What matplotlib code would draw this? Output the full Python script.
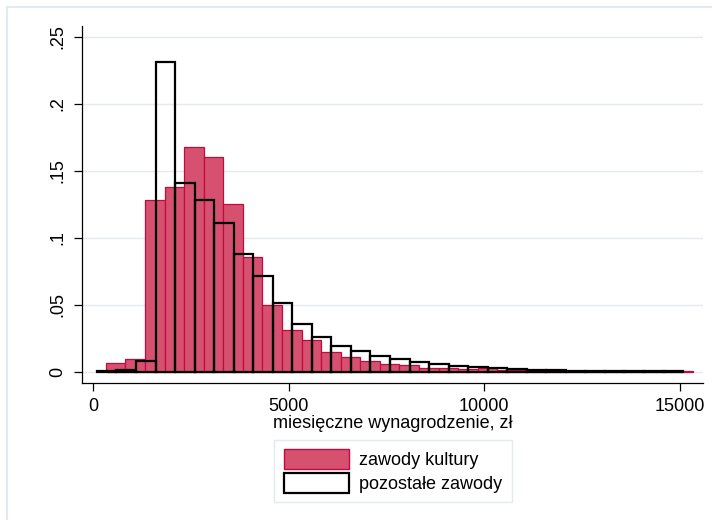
import matplotlib.pyplot as plt
from matplotlib.patches import Patch
import numpy as np

plt.rcParams['font.family'] = ['Liberation Sans', 'DejaVu Sans']

###================ Data =================###

# zawody kultury: 30 bins starting at 330 zl, width ~500 zl (fraction per bin)
culture_start = 330
culture_width = 500.5
culture_frac = [0.0065, 0.0097, 0.128, 0.138, 0.168, 0.160, 0.125, 0.0856,
                0.0498, 0.0308, 0.0234, 0.0144, 0.0113, 0.0083, 0.0058,
                0.0049, 0.0030, 0.0030, 0.0022, 0.0024, 0.0013, 0.0012,
                0.0010, 0.0008, 0.0007, 0.0006, 0.0005, 0.0004, 0.0003, 0.0003]

# pozostale zawody: 30 bins starting at 100 zl
other_start = 100
other_width = 499.7
other_frac = [0.0003, 0.0010, 0.0077, 0.231, 0.141, 0.128, 0.111, 0.0875,
              0.0714, 0.051, 0.0358, 0.026, 0.019, 0.0154, 0.0116, 0.0093,
              0.0071, 0.0056, 0.0043, 0.0036, 0.0025, 0.0020, 0.0015, 0.0010,
              0.0008, 0.0006, 0.0005, 0.0004, 0.0003, 0.0002]

x_ticks = [0, 5000, 10000, 15000]
y_ticks = [0, 0.05, 0.1, 0.15, 0.2, 0.25]
y_tick_labels = ['0', '.05', '.1', '.15', '.2', '.25']
x_label = 'miesięczne wynagrodzenie, zł'
legend_labels = ['zawody kultury', 'pozostałe zawody']

RED_FILL = '#d5516f'
RED_EDGE = '#c40a3c'
FRAME = '#e3eaef'

###================ Plot =================###

fig = plt.figure(figsize=(7.12, 5.2), dpi=100)
fig.patch.set_facecolor('white')

# outer light frame of the graph region (cropped at right/bottom)
fig.add_artist(plt.Line2D([7 / 712, 7 / 712], [0, 1 - 7 / 520],
                          color=FRAME, lw=1.5, transform=fig.transFigure))
fig.add_artist(plt.Line2D([7 / 712, 1], [1 - 7 / 520, 1 - 7 / 520],
                          color=FRAME, lw=1.5, transform=fig.transFigure))

ax = fig.add_axes([81.7 / 712, 137.3 / 520, (703 - 81.7) / 712, (382.7 - 26) / 520])

culture_edges = culture_start + culture_width * np.arange(len(culture_frac))
other_edges = other_start + other_width * np.arange(len(other_frac))

ax.bar(culture_edges, culture_frac, width=culture_width, align='edge',
       color=RED_FILL, edgecolor=RED_EDGE, linewidth=0.9, zorder=2)
ax.bar(other_edges, other_frac, width=other_width, align='edge',
       facecolor='none', edgecolor='black', linewidth=1.6, zorder=3)

ax.set_xlim(-289, 15601)
ax.set_ylim(-0.0082, 0.258)

ax.set_xticks(x_ticks)
ax.set_xticklabels([str(t) for t in x_ticks])
ax.set_yticks(y_ticks)
ax.set_yticklabels(y_tick_labels, rotation=90, va='center')
ax.tick_params(axis='both', labelsize=13, length=6, width=0.9,
               direction='out', pad=5, color='black')

ax.grid(axis='y', color=FRAME, linewidth=1.0, zorder=0)
ax.set_axisbelow(True)

for side in ['top', 'right']:
    ax.spines[side].set_visible(False)
for side in ['left', 'bottom']:
    ax.spines[side].set_linewidth(0.9)

ax.set_xlabel(x_label, fontsize=13, labelpad=0)

handles = [Patch(facecolor=RED_FILL, edgecolor=RED_EDGE, linewidth=1.0),
           Patch(facecolor='white', edgecolor='black', linewidth=1.6)]
leg = fig.legend(handles, legend_labels, loc='center',
                 bbox_to_anchor=(393 / 712, 1 - 471 / 520),
                 fontsize=13, handlelength=3.6, handleheight=1.3,
                 handletextpad=0.6, labelspacing=0.25, borderpad=0.5,
                 fancybox=False, edgecolor=FRAME, framealpha=1)
leg.get_frame().set_linewidth(1.0)

fig.savefig('out.png', dpi=100)
